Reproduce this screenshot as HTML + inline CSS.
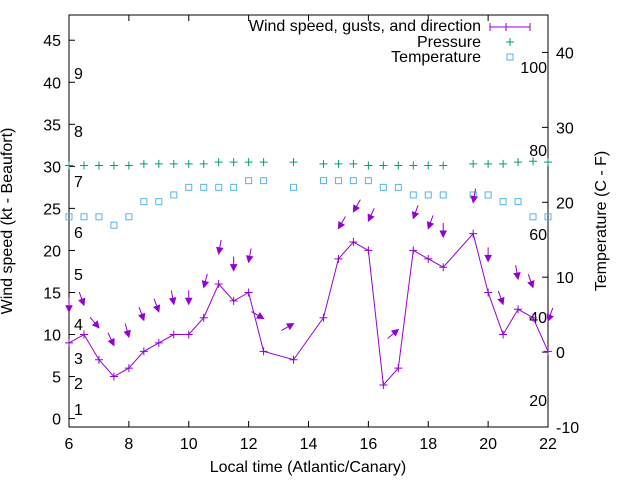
<!DOCTYPE html>
<html><head><meta charset="utf-8"><style>
body{margin:0;background:#fff}
svg{display:block;font-family:"Liberation Sans",sans-serif}
</style></head><body>
<svg id="c" width="640" height="480" viewBox="0 0 640 480">
<rect x="0" y="0" width="640" height="480" fill="#fff"/>
<g id="axes"></g><g id="marks"></g>
<text x="12" y="221" font-size="16" text-anchor="middle" transform="rotate(-90 12 221)">Wind speed (kt - Beaufort)</text>
<text x="606" y="221" font-size="16" text-anchor="middle" transform="rotate(-90 606 221)">Temperature (C - F)</text>
<text x="308" y="472" font-size="16" text-anchor="middle">Local time (Atlantic/Canary)</text>
<g font-size="16" text-anchor="end">
<text x="481" y="31">Wind speed, gusts, and direction</text>
<text x="481" y="47">Pressure</text>
<text x="481" y="62">Temperature</text>
<path d="M490 27H530M490 23V31M530 23V31M506 23V31M502 27H510" stroke="#9400d3" fill="none"/>
<path d="M510 38V46M506 42H514" stroke="#009e73"/>
<rect x="507" y="54" width="6" height="6" fill="none" stroke="#56b4e9"/>
</g>
</svg>
<script>
const times=[6,6.5,7,7.5,8,8.5,9,9.5,10,10.5,11,11.5,12,12.5,13.5,14.5,15,15.5,16,16.5,17,17.5,18,18.5,19.5,20,20.5,21,21.5,22];
const speed=[9,10,7,5,6,8,9,10,10,12,16,14,15,8,7,12,19,21,20,4,6,20,19,18,22,15,10,13,12,8];
const gustTimes=[6,6.5,7,7.5,8,8.5,9,9.5,10,10.5,11,11.5,12,12.5,13.5,15,15.5,16,17,17.5,18,18.5,19.5,20,20.5,21,21.5,22];
const gusts=[12.7,13.5,10.8,8.7,9.7,11.7,12.7,13.6,13.6,15.6,19.6,17.6,18.6,11.9,11.3,22.6,24.6,23.5,10.6,23.8,22.6,21.6,25.7,18.7,13.6,16.6,15.6,11.6];
const dirs=[0,340,320,335,345,340,340,350,0,15,10,0,10,300,240,30,30,25,230,20,20,0,10,0,340,350,340,20];
const pressure=[30.1,30.1,30.1,30.1,30.1,30.3,30.3,30.3,30.3,30.3,30.5,30.5,30.5,30.5,30.5,30.3,30.3,30.3,30.1,30.1,30.1,30.1,30.1,30.1,30.3,30.3,30.3,30.5,30.6,30.5];
const temperature=[24,24,24,23,24,25.8,25.8,26.6,27.5,27.5,27.5,27.5,28.3,28.3,27.5,28.3,28.3,28.3,28.3,27.5,27.5,26.6,26.6,26.6,26.6,26.6,25.8,25.8,24,24];
const xTicks=[6,8,10,12,14,16,18,20,22];
const yTicks=[0,5,10,15,20,25,30,35,40,45];
const y2Ticks=[-10,0,10,20,30,40];
const beaufort=[[1,409],[2,383],[3,358],[4,324],[5,274],[6,232],[7,181],[8,131],[9,73]];
const fahr=[[100,67],[80,150],[60,234],[40,317],[20,400]];
const L=69,R=548,T=15,B=427;
const X=v=>L+(v-6)/16*(R-L);
const Y=v=>B-(v+1)/49*(B-T);
const Y2=v=>B-(v+10)/55*(B-T);
const NS="http://www.w3.org/2000/svg";
const ax=document.getElementById('axes'),mk=document.getElementById('marks');
function el(t,a,p,txt){const e=document.createElementNS(NS,t);for(const k in a)e.setAttribute(k,a[k]);if(txt!==undefined)e.textContent=txt;p.appendChild(e);return e;}
let e=el('rect',{x:L,y:T,width:R-L,height:B-T,fill:'none',stroke:'#000'},ax);


xTicks.forEach(v=>{const x=X(v);el('path',{d:`M${x} ${B}v-6M${x} ${T}v6`,stroke:'#000'},ax);
const t=el('text',{x:x,y:449,'font-size':16,'text-anchor':'middle'},ax,v);

});
yTicks.forEach(v=>{const y=Y(v);el('path',{d:`M${L} ${y}h6`,stroke:'#000'},ax);
const t=el('text',{x:L-8,y:y+6,'font-size':16,'text-anchor':'end'},ax,v);

});
y2Ticks.forEach(v=>{const y=Y2(v);el('path',{d:`M${R} ${y}h-6`,stroke:'#000'},ax);
const t=el('text',{x:R+8,y:y+6,'font-size':16},ax,v);

});
beaufort.forEach(b=>{const t=el('text',{x:74,y:b[1]+6,'font-size':16},ax,b[0]);

});
fahr.forEach(f=>{const t=el('text',{x:R-1,y:f[1]+6,'font-size':16,'text-anchor':'end'},ax,f[0]);

});
pressure.forEach((v,i)=>{const x=X(times[i]),y=Y(v);
const p=el('path',{d:`M${x-4} ${y}h8M${x} ${y-4}v8`,stroke:'#009e73'},mk);

});
temperature.forEach((v,i)=>{const x=X(times[i]),y=Y(v);
const r=el('rect',{x:x-3,y:y-3,width:6,height:6,fill:'none',stroke:'#56b4e9'},mk);

});
const ln=el('polyline',{points:times.map((t,i)=>X(t)+','+Y(speed[i])).join(' '),fill:'none',stroke:'#9400d3'},mk);


speed.forEach((v,i)=>{const x=X(times[i]),y=Y(v);
const p=el('path',{d:`M${x-4} ${y}h8M${x} ${y-4}v8`,stroke:'#9400d3'},mk);

});
gusts.forEach((g,i)=>{const a=dirs[i]*Math.PI/180;const dx=-Math.sin(a),dy=Math.cos(a);
const hx=X(gustTimes[i]),hy=Y(g),len=14;const tx=hx-dx*len,ty=hy-dy*len;
const px=-dy,py=dx;
const bx=hx-dx*6,by=hy-dy*6;
const grp=el('g',{},mk);


el('line',{x1:tx,y1:ty,x2:hx,y2:hy,stroke:'#9400d3'},grp);
el('path',{d:`M${hx} ${hy}L${bx+px*3} ${by+py*3}L${bx-px*3} ${by-py*3}Z`,fill:'#9400d3',stroke:'#9400d3'},grp);});
</script>
</body></html>
